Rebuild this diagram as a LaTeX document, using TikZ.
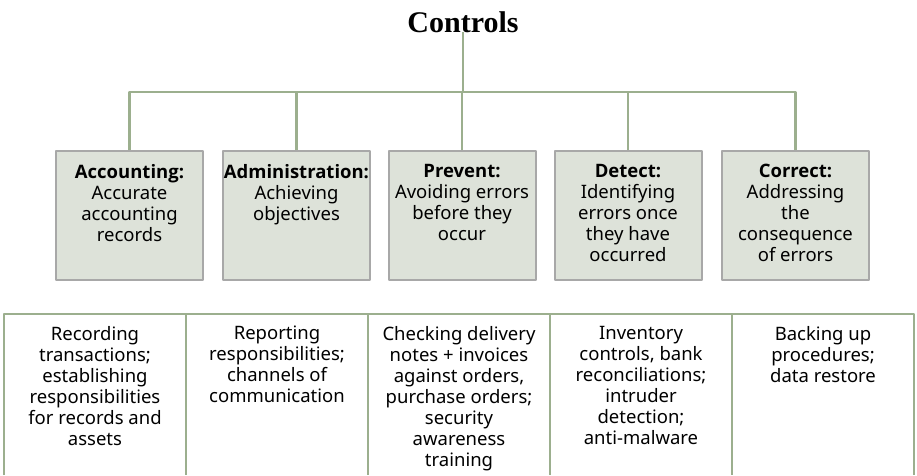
\documentclass[tikz,border=0pt]{standalone}
\usepackage{fontspec}
\setmainfont{Noto Sans}
\newfontfamily\headfont{Open Sans}
\newfontfamily\titlefont{Liberation Serif}
\newcommand{\head}[1]{{\headfont\bfseries #1}}
\definecolor{linegreen}{HTML}{9CAF8E}
\definecolor{boxgray}{HTML}{A8A8A8}
\definecolor{boxfill}{HTML}{DDE2D9}
\tikzset{
  link/.style={draw=linegreen, line width=2.2pt},
  grid line/.style={draw=linegreen, line width=2.6pt},
  ctrlbox/.style={draw=boxgray, fill=boxfill, line width=2pt, minimum width=147pt, minimum height=129pt, anchor=north, inner sep=0pt},
  boxtext/.style={anchor=north, align=center, inner sep=0pt, font=\fontsize{18.5}{21}\selectfont},
}
\begin{document}
\begin{tikzpicture}[x=1pt, y=-1pt, line join=round]
  \useasboundingbox (0,0) rectangle (917,475);
  \def\ytop{150} \def\ybus{92} \def\ytab{314}
  % title and bus
  \node[inner sep=0pt, anchor=base, font=\titlefont\fontsize{30}{34}\selectfont\bfseries] (title) at (463,32) {Controls};
  \node[ctrlbox] (b1) at (129.5,\ytop) {};
  \node[ctrlbox] (b2) at (296.5,\ytop) {};
  \node[ctrlbox] (b3) at (462,\ytop) {};
  \node[ctrlbox] (b4) at (628,\ytop) {};
  \node[ctrlbox] (b5) at (795.5,\ytop) {};
  \draw[link] (title.base) -- (title.base |- 0,\ybus);
  \draw[link] (b1.north) -- (b1.north |- 0,\ybus) -- (b5.north |- 0,\ybus) -- (b5.north);
  \foreach \b in {b2,b3,b4}
    \draw[link] (\b.north) -- (\b.north |- 0,\ybus);
  % box texts
  \node[boxtext] (t1) at ([yshift=-14pt]b1.north) {\head{Accounting:}\\Accurate\\accounting\\records};
  \node[boxtext] (t2) at ([yshift=-14pt]b2.north) {\head{Administration:}\\Achieving\\objectives};
  \node[boxtext] (t3) at ([yshift=-14pt]b3.north) {\head{Prevent:}\\Avoiding errors\\before they\\occur};
  \node[boxtext] (t4) at ([yshift=-14pt]b4.north) {\head{Detect:}\\Identifying\\errors once\\they have\\occurred};
  \node[boxtext] (t5) at ([yshift=-14pt]b5.north) {\head{Correct:}\\Addressing\\the\\consequence\\of errors};
  % table of examples
  \draw[grid line] (4,475) -- (4,\ytab) -- (914,\ytab) -- (914,475);
  \foreach \x in {186,368,550,732}
    \draw[grid line] (\x,\ytab) -- (\x,475);
  \node[boxtext] (e1) at (95,326) {Recording\\transactions;\\establishing\\responsibilities\\for records and\\assets};
  \node[boxtext] (e2) at (277,326) {Reporting\\responsibilities;\\channels of\\communication};
  \node[boxtext] (e3) at (459,326) {Checking delivery\\notes + invoices\\against orders,\\purchase orders;\\security\\awareness\\training};
  \node[boxtext] (e4) at (641,326) {Inventory\\controls, bank\\reconciliations;\\intruder\\detection;\\anti-malware};
  \node[boxtext] (e5) at (823,326) {Backing up\\procedures;\\data restore};
\end{tikzpicture}
\end{document}
